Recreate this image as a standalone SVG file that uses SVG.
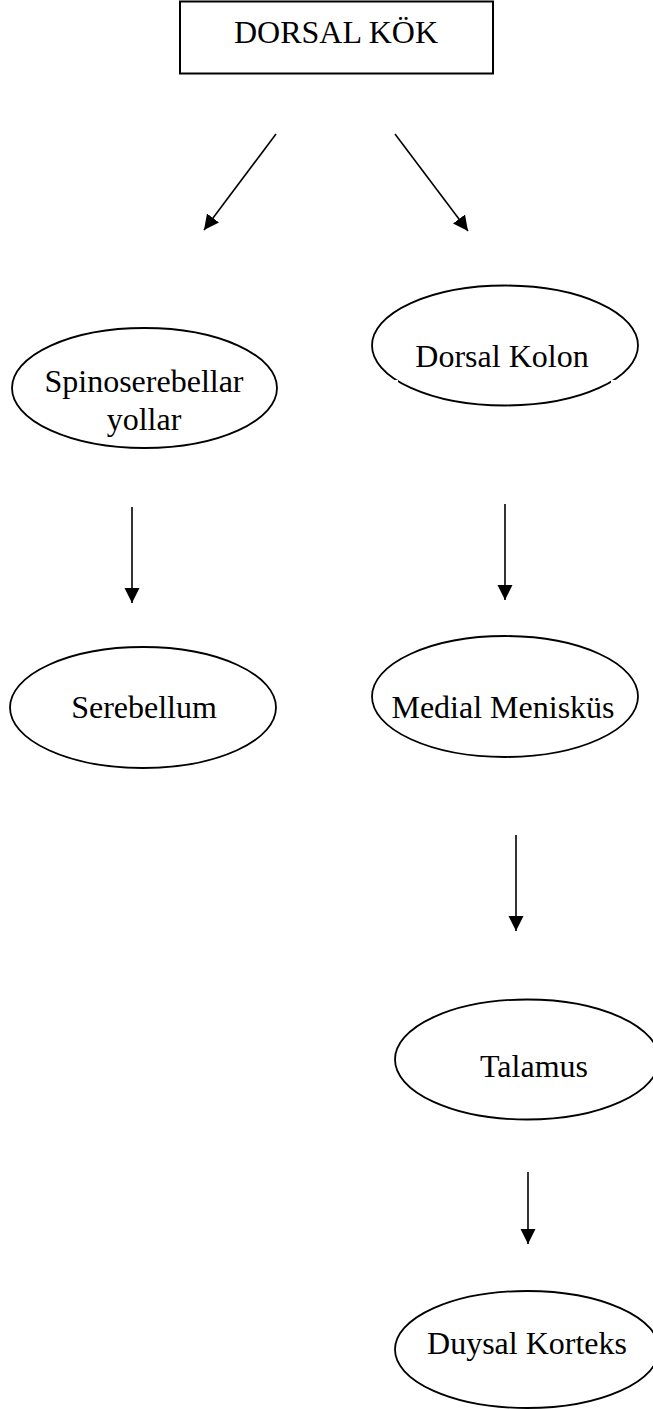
<svg xmlns="http://www.w3.org/2000/svg" width="653" height="1409" viewBox="0 0 653 1409">
<style>
.t{font-family:"Liberation Serif","Times New Roman",serif;font-size:32px;fill:#000;text-anchor:middle}
.e{fill:none;stroke:#000;stroke-width:1.8}
.c{stroke:#000;stroke-width:1.6;fill:none;marker-end:url(#ah)}
</style>
<defs>
<marker id="ah" markerUnits="userSpaceOnUse" markerWidth="16" markerHeight="16" refX="15" refY="7.5" orient="auto">
<path d="M0,0 L15,7.5 L0,15 z" fill="#000"/>
</marker>
</defs>
<rect width="653" height="1409" fill="#fff"/>
<g id="dorsal-kok">
<rect x="180" y="1.5" width="313" height="72" fill="none" stroke="#000" stroke-width="2"/>
<text class="t" x="336" y="43">DORSAL KÖK</text>
</g>
<g id="spinoserebellar">
<ellipse class="e" cx="144.5" cy="388" rx="132.5" ry="60"/>
<text class="t" x="144" y="392">Spinoserebellar</text>
<text class="t" x="144" y="430">yollar</text>
</g>
<g id="dorsal-kolon">
<ellipse class="e" cx="505" cy="345.5" rx="133" ry="60"/>
<rect x="394" y="380" width="4" height="3" fill="#fff"/>
<rect x="611" y="380" width="4" height="3" fill="#fff"/>
<text class="t" x="502" y="367">Dorsal Kolon</text>
</g>
<g id="serebellum">
<ellipse class="e" cx="143" cy="707.5" rx="133" ry="60.5"/>
<text class="t" x="144" y="718">Serebellum</text>
</g>
<g id="medial-meniskus">
<ellipse class="e" cx="505" cy="696.5" rx="133" ry="60.5"/>
<text class="t" x="503" y="718">Medial Menisküs</text>
</g>
<g id="talamus">
<ellipse class="e" cx="527" cy="1059.5" rx="132" ry="60"/>
<text class="t" x="534" y="1077">Talamus</text>
</g>
<g id="duysal-korteks">
<ellipse class="e" cx="527" cy="1349.5" rx="132" ry="58.5"/>
<text class="t" x="527" y="1354">Duysal Korteks</text>
</g>
<g id="connectors">
<line class="c" x1="276" y1="134" x2="204" y2="230"/>
<line class="c" x1="395" y1="134" x2="468" y2="231"/>
<line class="c" x1="132" y1="507" x2="132" y2="603"/>
<line class="c" x1="505" y1="504" x2="505" y2="600"/>
<line class="c" x1="516" y1="835" x2="516" y2="931"/>
<line class="c" x1="528" y1="1172" x2="528" y2="1244"/>
</g>
</svg>
